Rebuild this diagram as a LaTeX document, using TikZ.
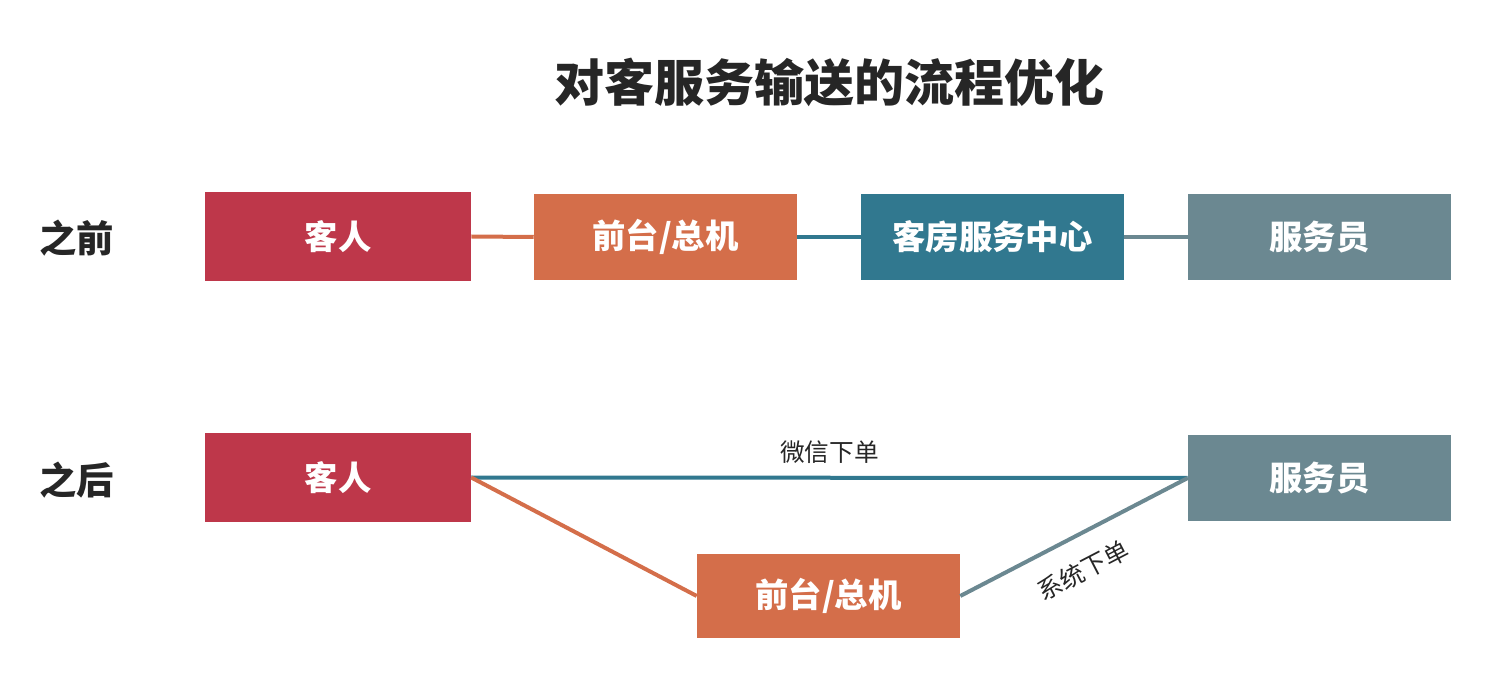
\documentclass[tikz,border=0pt]{standalone}
\usepackage{fontspec}
\setmainfont{Noto Sans CJK SC}
\definecolor{cCrimson}{HTML}{BE374A}
\definecolor{cOrange}{HTML}{D46E4A}
\definecolor{cTeal}{HTML}{31788F}
\definecolor{cGray}{HTML}{6B8891}
\definecolor{cText}{HTML}{262626}
\begin{document}
\begin{tikzpicture}[x=0.75pt,y=-0.75pt,
  box/.style={inner sep=0pt, minimum width=197.25pt, minimum height=64.5pt, text=white, font=\bfseries\fontsize{25}{29}\selectfont},
  rowlabel/.style={text=cText, font=\bfseries\fontsize{28}{32}\selectfont},
  link/.style={line width=3pt},
  edgelabel/.style={text=cText, font=\fontsize{18.5}{22}\selectfont}]
\useasboundingbox (0,0) rectangle (1493,698);
\node[text=cText, font=\bfseries\fontsize{37.5}{42}\selectfont] (title) at (829,82) {对客服务输送的流程优化};
\node[rowlabel] (before) at (77,238) {之前};
\node[rowlabel] (after) at (77,480) {之后};
% row 1
\node[box, fill=cCrimson, minimum width=199.5pt, minimum height=66.75pt] (a1) at (338,236.5) {客人};
\node[box, fill=cOrange] (b1) at (665.5,237) {前台/总机};
\node[box, fill=cTeal] (c1) at (992.5,237) {客房服务中心};
\node[box, fill=cGray] (d1) at (1319.5,237) {服务员};
\draw[link, cOrange] (a1.east) -- (b1.west);
\draw[link, cTeal] (b1.east) -- (c1.west);
\draw[link, cGray] (c1.east) -- (d1.west);
% row 2
\node[box, fill=cCrimson, minimum width=199.5pt, minimum height=66.75pt] (a2) at (338,477.5) {客人};
\node[box, fill=cGray] (d2) at (1319.5,478) {服务员};
\node[box, fill=cOrange, minimum height=63pt] (b2) at (828.5,596) {前台/总机};
\draw[link, cTeal] (a2.east) -- node[edgelabel, above=5.5pt] {微信下单} (d2.west);
\draw[link, cOrange] (a2.east) -- (b2.west);
\draw[link, cGray] (b2.east) -- node[edgelabel, sloped, pos=0.47, below=12pt] {系统下单} (d2.west);
\end{tikzpicture}
\end{document}
